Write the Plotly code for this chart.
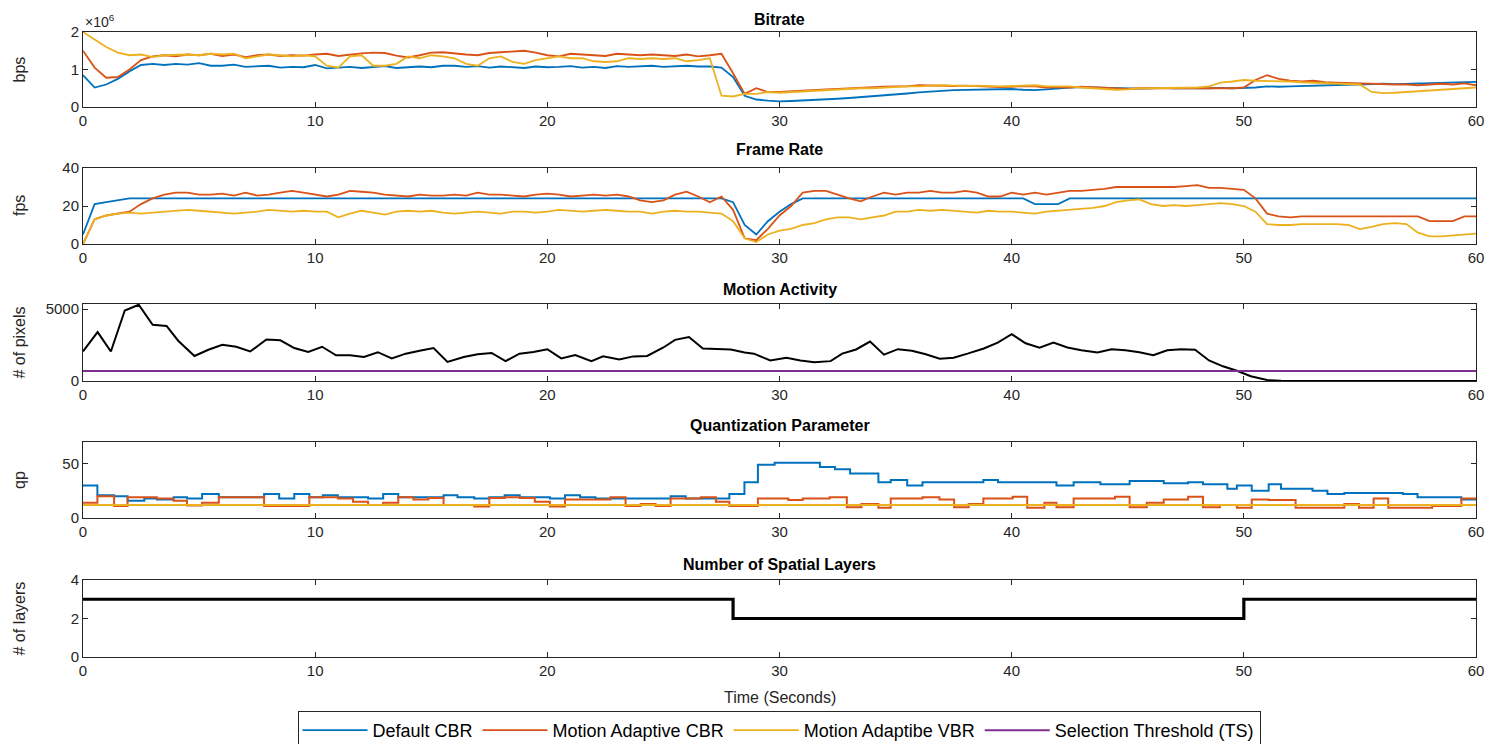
import plotly.graph_objects as go

# ---------------- data ----------------
t_rate = [i * 0.5 for i in range(121)]

bitrate_default_mbps = [
    0.85, 0.52, 0.60, 0.75, 0.95, 1.12, 1.15, 1.12, 1.15, 1.13,
    1.17, 1.10, 1.10, 1.13, 1.07, 1.08, 1.10, 1.05, 1.07, 1.06,
    1.12, 1.03, 1.05, 1.07, 1.04, 1.06, 1.09, 1.04, 1.06, 1.08,
    1.06, 1.10, 1.10, 1.07, 1.09, 1.05, 1.08, 1.06, 1.04, 1.08,
    1.06, 1.07, 1.09, 1.05, 1.07, 1.04, 1.09, 1.07, 1.08, 1.10,
    1.07, 1.09, 1.10, 1.08, 1.08, 1.05, 0.80, 0.30, 0.20, 0.17,
    0.15, 0.16, 0.17, 0.18, 0.20, 0.22, 0.24, 0.26, 0.28, 0.30,
    0.33, 0.36, 0.39, 0.42, 0.43, 0.45, 0.46, 0.47, 0.48, 0.48,
    0.48, 0.46, 0.45, 0.47, 0.50, 0.52, 0.53, 0.52, 0.51, 0.50,
    0.50, 0.49, 0.50, 0.51, 0.50, 0.49, 0.50, 0.50, 0.51, 0.50,
    0.50, 0.52, 0.55, 0.54, 0.55, 0.56, 0.56, 0.57, 0.58, 0.59,
    0.60, 0.61, 0.62, 0.61, 0.62, 0.63, 0.63, 0.64, 0.65, 0.66,
    0.67]
bitrate_ma_cbr_mbps = [
    1.50, 1.05, 0.78, 0.80, 1.00, 1.25, 1.35, 1.38, 1.35, 1.40,
    1.38, 1.42, 1.36, 1.40, 1.33, 1.38, 1.40, 1.36, 1.38, 1.37,
    1.40, 1.42, 1.36, 1.40, 1.43, 1.45, 1.44, 1.37, 1.32, 1.38,
    1.45, 1.46, 1.42, 1.40, 1.38, 1.44, 1.46, 1.48, 1.50, 1.45,
    1.38, 1.35, 1.42, 1.40, 1.38, 1.36, 1.42, 1.40, 1.38, 1.40,
    1.38, 1.36, 1.40, 1.35, 1.38, 1.42, 0.90, 0.35, 0.50, 0.40,
    0.40, 0.42, 0.45, 0.45, 0.47, 0.48, 0.50, 0.52, 0.53, 0.54,
    0.55, 0.55, 0.58, 0.57, 0.58, 0.56, 0.57, 0.55, 0.55, 0.53,
    0.54, 0.56, 0.55, 0.52, 0.53, 0.52, 0.54, 0.52, 0.50, 0.49,
    0.48, 0.50, 0.50, 0.50, 0.50, 0.50, 0.50, 0.49, 0.50, 0.50,
    0.52, 0.72, 0.85, 0.75, 0.70, 0.68, 0.70, 0.66, 0.65, 0.64,
    0.63, 0.62, 0.60, 0.60, 0.60, 0.58, 0.60, 0.62, 0.60, 0.63,
    0.58]
bitrate_ma_vbr_mbps = [
    2.00, 1.80, 1.60, 1.45, 1.38, 1.40, 1.33, 1.38, 1.40, 1.40,
    1.38, 1.42, 1.40, 1.42, 1.30, 1.36, 1.40, 1.38, 1.35, 1.38,
    1.35, 1.10, 1.05, 1.35, 1.38, 1.10, 1.10, 1.15, 1.35, 1.30,
    1.38, 1.35, 1.30, 1.15, 1.10, 1.30, 1.35, 1.20, 1.15, 1.25,
    1.30, 1.35, 1.30, 1.30, 1.22, 1.20, 1.22, 1.30, 1.28, 1.30,
    1.28, 1.30, 1.22, 1.25, 1.30, 0.30, 0.28, 0.35, 0.35, 0.40,
    0.38, 0.40, 0.42, 0.42, 0.45, 0.46, 0.48, 0.50, 0.50, 0.52,
    0.53, 0.55, 0.55, 0.57, 0.58, 0.57, 0.56, 0.57, 0.56, 0.55,
    0.56, 0.57, 0.58, 0.55, 0.56, 0.55, 0.52, 0.50, 0.48, 0.46,
    0.47, 0.50, 0.50, 0.50, 0.50, 0.50, 0.52, 0.55, 0.65, 0.68,
    0.72, 0.70, 0.70, 0.70, 0.68, 0.66, 0.65, 0.64, 0.63, 0.62,
    0.60, 0.40, 0.37, 0.38, 0.40, 0.42, 0.45, 0.46, 0.48, 0.50,
    0.52]

fps_default = [
    5, 21, 22, 23, 24, 24, 24, 24, 24, 24,
    24, 24, 24, 24, 24, 24, 24, 24, 24, 24,
    24, 24, 24, 24, 24, 24, 24, 24, 24, 24,
    24, 24, 24, 24, 24, 24, 24, 24, 24, 24,
    24, 24, 24, 24, 24, 24, 24, 24, 24, 24,
    24, 24, 24, 24, 24, 24, 22, 10, 5, 12,
    17, 21, 24, 24, 24, 24, 24, 24, 24, 24,
    24, 24, 24, 24, 24, 24, 24, 24, 24, 24,
    24, 24, 21, 21, 21, 24, 24, 24, 24, 24,
    24, 24, 24, 24, 24, 24, 24, 24, 24, 24,
    24, 24, 24, 24, 24, 24, 24, 24, 24, 24,
    24, 24, 24, 24, 24, 24, 24, 24, 24, 24,
    24]
fps_ma_cbr = [
    0, 13, 15, 16, 17, 21, 24, 26, 27, 27,
    26, 26, 26.5, 25.5, 27, 25.5, 26, 27, 28, 27,
    26, 25, 26, 28, 27.5, 27, 26, 25.5, 25, 26,
    25.5, 25.5, 26, 25.5, 27, 26, 26, 25.5, 25, 26,
    26.5, 26, 25, 25.5, 26, 25.5, 26, 25, 23, 22,
    23, 26, 27.5, 25, 22, 25, 18, 3, 2, 8,
    15, 20, 27, 28, 28, 26, 24, 22.5, 25, 27,
    26, 27, 27, 28, 27, 27, 28, 27, 25, 25,
    27, 26, 27, 26, 27, 28, 28, 28.5, 29, 30,
    30, 30, 30, 30, 30, 30.5, 31, 29.5, 29.5, 29,
    28.5, 24, 16, 14.5, 14, 14.5, 14.5, 14.5, 14.5, 14.5,
    14.5, 14.5, 14.5, 14.5, 14.5, 14.5, 12, 12, 12, 14.5,
    14.5]
fps_ma_vbr = [
    0, 13, 15, 16, 16.5, 16, 16.5, 17, 17.5, 18,
    17.5, 17, 16.5, 16, 16.5, 17, 18, 17.5, 17, 17.5,
    17, 17, 14, 16, 17.5, 16.5, 15.5, 17, 17.5, 17,
    17.5, 16.5, 16, 16.5, 17, 16.5, 16, 17, 17, 16.5,
    17, 18, 17.5, 17, 17.5, 18, 17.5, 17, 17, 16,
    17, 17.5, 17, 17, 16.5, 16, 12, 3, 1, 5,
    7, 8, 10, 11, 13, 14, 14, 13, 14, 15,
    17, 17, 18, 17.5, 18, 17.5, 17, 16.5, 17.5, 17,
    17, 16.5, 16, 17, 17.5, 18, 18.5, 19, 20, 22,
    23, 23.5, 21, 20, 20.5, 20, 20.5, 21, 21.5, 21,
    20, 17, 10.5, 10, 10, 10.5, 10.5, 10.5, 10.5, 10,
    7.8, 9, 10.5, 11, 10.5, 6, 4, 4, 4.5, 5,
    5.5]

ma_t = [0, 0.63, 1.2, 1.8, 2.4, 3.0, 3.6, 4.1, 4.8, 5.4,
        6.0, 6.6, 7.2, 7.9, 8.5, 9.1, 9.7, 10.3, 10.9, 11.5,
        12.1, 12.7, 13.3, 13.9, 14.5, 15.1, 15.7, 16.4, 17.0, 17.6,
        18.2, 18.8, 19.4, 20.0, 20.6, 21.2, 21.9, 22.4, 23.1, 23.7,
        24.3, 25.0, 25.5, 26.1, 26.7, 27.3, 27.9, 28.5, 28.9, 29.6,
        30.3, 30.9, 31.5, 32.2, 32.7, 33.3, 33.9, 34.5, 35.1, 35.7,
        36.3, 36.9, 37.5, 38.1, 38.8, 39.4, 40.0, 40.6, 41.2, 41.8,
        42.4, 43.0, 43.7, 44.3, 44.9, 45.5, 46.1, 46.7, 47.3, 47.9,
        48.5, 49.1, 49.7, 50.3, 51.0, 51.6, 52.2, 60]
motion_activity = [2050, 3400, 2050, 4900, 5300, 3900, 3830, 2800, 1740, 2170,
                   2520, 2380, 2050, 2880, 2830, 2290, 2020, 2380, 1790, 1790,
                   1670, 2000, 1570, 1900, 2100, 2290, 1330, 1670, 1860, 1950,
                   1380, 1900, 2020, 2210, 1570, 1810, 1380, 1710, 1500, 1710,
                   1740, 2330, 2860, 3050, 2260, 2240, 2190, 1980, 1900, 1430,
                   1620, 1430, 1310, 1380, 1900, 2190, 2740, 1830, 2210, 2100,
                   1860, 1550, 1620, 1900, 2260, 2670, 3260, 2620, 2310, 2670,
                   2330, 2140, 1980, 2210, 2140, 2000, 1790, 2140, 2210, 2170,
                   1430, 1020, 710, 330, 70, 20, 0, 0]
threshold_t = [0, 60]
threshold_v = [700, 700]

qp_default_t = [0, 0.62, 1.34, 1.92, 2.64, 3.18, 3.9, 4.48, 5.13, 5.85,
                7.8, 8.45, 9.1, 9.75, 10.33, 10.98, 12.28, 12.93, 13.58, 15.53,
                16.13, 16.85, 17.5, 18.16, 18.81, 20.11, 20.76, 21.41, 22.07, 25.31,
                25.96, 27.84, 28.49, 29.07, 29.79, 31.74, 32.39, 33.04, 34.26, 34.79,
                35.5, 36.16, 38.78, 39.41, 41.93, 42.67, 43.82, 45.08, 46.55, 47.6,
                48.24, 49.29, 49.7, 50.34, 51.07, 51.6, 52.96, 53.6, 54.33, 56.85,
                57.48, 59.37, 60]
qp_default_v = [30, 21, 20, 16, 18, 17, 19, 18, 22, 19,
                22, 18, 22, 19, 21, 19, 18, 22, 19, 21,
                19, 18, 19, 21, 19, 18, 21, 19, 18, 20,
                18, 22, 33, 49, 51, 47, 45, 41, 33, 35,
                30, 33, 35, 33, 30, 33, 31, 34, 32, 33,
                31, 27, 30, 25, 31, 27, 25, 22, 23, 22,
                19, 17, 17]
qp_ma_cbr_t = [0, 0.62, 1.34, 1.92, 3.18, 3.9, 4.48, 5.13, 5.85, 7.8,
               9.75, 10.98, 11.63, 12.28, 12.93, 13.58, 14.23, 14.88, 15.53, 16.85,
               17.5, 18.16, 18.81, 19.46, 20.11, 20.76, 22.72, 23.37, 24.02, 24.66,
               25.31, 26.61, 27.26, 27.84, 29.07, 30.38, 31.0, 32.16, 32.9, 33.53,
               34.26, 34.79, 36.16, 36.89, 37.52, 38.15, 38.78, 40.04, 40.67, 41.41,
               41.93, 42.67, 44.45, 45.08, 45.82, 46.55, 47.6, 48.24, 48.97, 49.7,
               50.34, 51.07, 52.23, 54.33, 54.96, 55.59, 56.22, 58.11, 59.37, 60]
qp_ma_cbr_v = [14, 20, 11, 19, 18, 16, 11.5, 14, 19, 11,
               19, 18, 15, 12, 14, 19, 17, 18.5, 12, 10.5,
               18.5, 19, 18.5, 15, 10.5, 17, 19, 11, 13, 11,
               18, 19, 15, 11, 18, 16.5, 18, 19, 10, 13,
               9.5, 18, 19, 17, 10, 13, 18, 19.5, 9.5, 14,
               10, 18, 19.5, 10, 14, 17, 19.5, 10, 12, 9.5,
               17, 16.5, 9.5, 13, 9.5, 18, 9.5, 11, 18, 18]
qp_ma_vbr_t = [0, 60]
qp_ma_vbr_v = [12, 12]

layers_t = [0, 28, 50, 60]
layers_v = [3, 2, 3, 3]

assert len(bitrate_default_mbps) == len(t_rate) == len(bitrate_ma_cbr_mbps) == len(bitrate_ma_vbr_mbps)
assert len(fps_default) == len(t_rate) == len(fps_ma_cbr) == len(fps_ma_vbr)
assert len(ma_t) == len(motion_activity)
assert len(qp_default_t) == len(qp_default_v)
assert len(qp_ma_cbr_t) == len(qp_ma_cbr_v)

series_names = ["Default CBR", "Motion Adaptive CBR", "Motion Adaptibe VBR", "Selection Threshold (TS)"]
colors = ["#0072BD", "#D95319", "#EDB120", "#7E2F8E"]

x_ticks = [0, 10, 20, 30, 40, 50, 60]

# ---------------- figure ----------------
# the page body has an 8px margin, so the figure is shrunk by 8px and
# screen positions are converted to paper fractions with that offset
OFF = 8
W, H = 1502 - OFF, 744 - OFF
FONT = "'Liberation Sans Narrow', 'Liberation Sans', Arial, sans-serif"
AX = "#262626"


def px(x):
    return (x - OFF) / W


def py(y):
    return 1 - (y - OFF) / H


x0, x1 = px(83), px(1476)
panels = [  # (top px, bottom px) on screen
    (32, 107), (168, 244), (304, 381), (442, 518), (580, 657)
]

fig = go.Figure()


def add(x, y, k, name, color, width, shape="linear", legend=False, group=None):
    fig.add_trace(go.Scatter(
        x=x, y=y, mode="lines", name=name,
        line=dict(color=color, width=width, shape=shape),
        xaxis="x" if k == 1 else f"x{k}", yaxis="y" if k == 1 else f"y{k}",
        showlegend=legend, legendgroup=group or name, hoverinfo="skip"))


# panel 1: bitrate
for vals, nm, c in zip([bitrate_default_mbps, bitrate_ma_cbr_mbps, bitrate_ma_vbr_mbps], series_names, colors):
    add(t_rate, [v * 1e6 for v in vals], 1, nm, c, 1.8, legend=True)
# panel 2: frame rate
for vals, nm, c in zip([fps_default, fps_ma_cbr, fps_ma_vbr], series_names, colors):
    add(t_rate, vals, 2, nm, c, 1.8)
# panel 3: motion activity
add(ma_t, motion_activity, 3, "Motion Activity", "#000000", 2.0, group="ma")
add(threshold_t, threshold_v, 3, series_names[3], colors[3], 2.0, legend=True)
# panel 4: QP
for tt, vv, nm, c in zip([qp_default_t, qp_ma_cbr_t, qp_ma_vbr_t],
                         [qp_default_v, qp_ma_cbr_v, qp_ma_vbr_v], series_names, colors):
    add(tt, vv, 4, nm, c, 2.0, shape="hv")
# panel 5: layers
add(layers_t, layers_v, 5, "Layers", "#000000", 3.2, shape="hv", group="layers")

yranges = [[0, 2e6], [0, 40], [0, 5350], [0, 70], [0, 4]]
ytickv = [[0, 1e6, 2e6], [0, 20, 40], [0, 5000], [0, 50], [0, 2, 4]]
ytickt = [["0", "1", "2"], ["0", "20", "40"], ["0", "5000"], ["0", "50"], ["0", "2", "4"]]

common = dict(showline=True, linecolor=AX, linewidth=1, mirror="ticks",
              ticks="inside", ticklen=5, tickcolor=AX, tickwidth=1,
              showgrid=False, zeroline=False, automargin=False,
              tickfont=dict(family=FONT, size=15, color=AX))

layout_axes = {}
for i, (top, bot) in enumerate(panels):
    k = i + 1
    xs = "xaxis" if k == 1 else f"xaxis{k}"
    ys = "yaxis" if k == 1 else f"yaxis{k}"
    ya = "y" if k == 1 else f"y{k}"
    xa = "x" if k == 1 else f"x{k}"
    layout_axes[xs] = dict(common, domain=[x0, x1], anchor=ya, range=[0, 60],
                           tickvals=x_ticks, ticktext=[str(v) for v in x_ticks])
    layout_axes[ys] = dict(common, domain=[py(bot), py(top)], anchor=xa,
                           range=yranges[i], tickvals=ytickv[i], ticktext=ytickt[i])

titles = ["Bitrate", "Frame Rate", "Motion Activity", "Quantization Parameter", "Number of Spatial Layers"]
title_y = [12, 149, 289, 425, 564]
ylabels = ["bps", "fps", "# of pixels", "qp", "# of layers"]

annotations = []
for i, (top, bot) in enumerate(panels):
    if i == 0:
        ty, ya_ = py(OFF + 1), "top"   # keep the first title inside the figure
    else:
        ty, ya_ = py(title_y[i]), "middle"
    annotations.append(dict(text=f"<b>{titles[i]}</b>", x=(x0 + x1) / 2, y=ty,
                            xref="paper", yref="paper", showarrow=False,
                            xanchor="center", yanchor=ya_,
                            font=dict(family=FONT, size=16, color="#000000")))
    annotations.append(dict(text=ylabels[i], x=px(19), y=py((top + bot) / 2),
                            xref="paper", yref="paper", showarrow=False, textangle=-90,
                            xanchor="center", yanchor="middle",
                            font=dict(family=FONT, size=16, color=AX)))
annotations.append(dict(text="×10<sup>6</sup>", x=px(83), y=py(21), xref="paper", yref="paper",
                        showarrow=False, xanchor="left", yanchor="middle",
                        font=dict(family=FONT, size=14, color=AX)))
annotations.append(dict(text="Time (Seconds)", x=(x0 + x1) / 2, y=py(697), xref="paper", yref="paper",
                        showarrow=False, xanchor="center", yanchor="middle",
                        font=dict(family=FONT, size=16, color=AX)))

fig.update_layout(
    width=W, height=H,
    margin=dict(l=0, r=0, t=0, b=0, autoexpand=False),
    paper_bgcolor="white", plot_bgcolor="white",
    showlegend=True,
    legend=dict(orientation="h", x=px((290 + 1268) / 2), xanchor="center",
                y=py(711), yanchor="top",
                bordercolor=AX, borderwidth=1, bgcolor="white",
                font=dict(family=FONT, size=18, color="#000000"),
                itemwidth=65, tracegroupgap=0),
    annotations=annotations,
    **layout_axes,
)

fig.write_html("out.html")
